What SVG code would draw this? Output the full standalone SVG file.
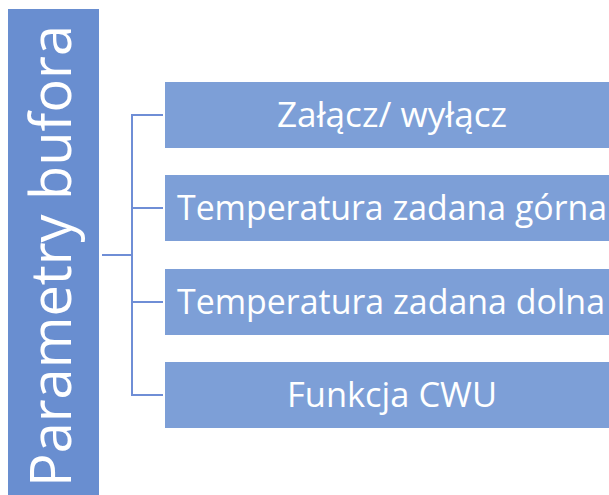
<svg xmlns="http://www.w3.org/2000/svg" width="609" height="495" viewBox="0 0 609 495">
<style>
.box{fill:#7D9FD7}
.lbl{font-family:"Open Sans","Liberation Sans",sans-serif;font-size:34px;fill:#fff;text-anchor:middle}
.con{stroke:#6F8ED6;stroke-width:2;fill:none}
</style>
<rect width="609" height="495" fill="#fff"/>
<g id="root">
<rect x="8" y="9" width="91" height="490" fill="#698ED0"/>
<text transform="translate(71,256) rotate(-90)" x="0" y="0" font-family="Open Sans, Liberation Sans, sans-serif" font-size="56" fill="#fff" text-anchor="middle" textLength="462" lengthAdjust="spacingAndGlyphs">Parametry bufora</text>
</g>
<g id="connectors">
<path class="con" d="M102 255H132M132 114V396M132 115H163M132 208H163M132 302H163M132 395H163"/>
</g>
<g id="n1"><rect class="box" x="165" y="82" width="455" height="66"/><text class="lbl" x="392" y="127" textLength="230" lengthAdjust="spacingAndGlyphs">Załącz/ wyłącz</text></g>
<g id="n2"><rect class="box" x="165" y="175" width="455" height="66"/><text class="lbl" x="392" y="220" textLength="430" lengthAdjust="spacingAndGlyphs">Temperatura zadana górna</text></g>
<g id="n3"><rect class="box" x="165" y="269" width="455" height="66"/><text class="lbl" x="391" y="314" textLength="428" lengthAdjust="spacingAndGlyphs">Temperatura zadana dolna</text></g>
<g id="n4"><rect class="box" x="165" y="362" width="455" height="66"/><text class="lbl" x="392" y="407" textLength="210" lengthAdjust="spacingAndGlyphs">Funkcja CWU</text></g>
</svg>
